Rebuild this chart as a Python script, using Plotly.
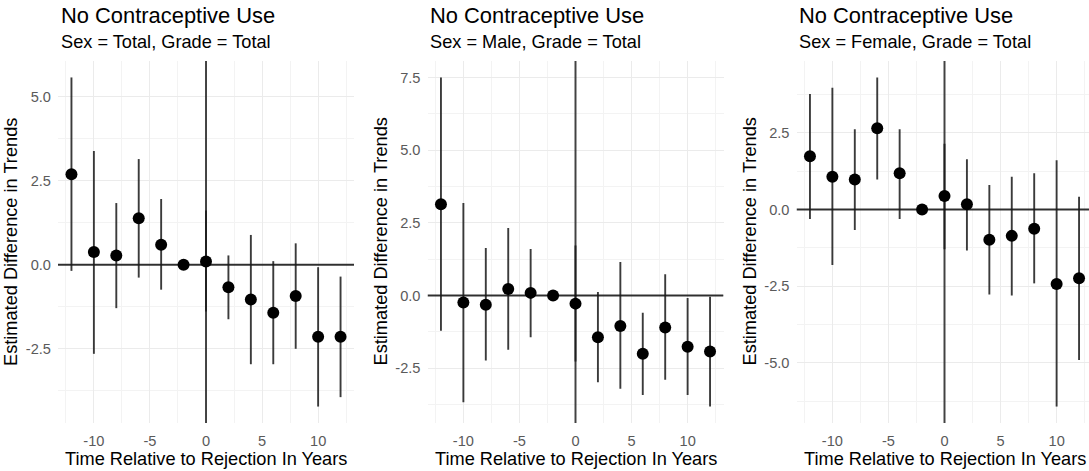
import plotly.graph_objects as go

# ---------------- data ----------------
time_years = [-12, -10, -8, -6, -4, -2, 0, 2, 4, 6, 8, 10, 12]

total_est = [2.70, 0.38, 0.28, 1.39, 0.60, 0.00, 0.10, -0.67, -1.03, -1.43, -0.93, -2.14, -2.14]
total_lo = [-0.18, -2.65, -1.29, -0.38, -0.74, 0.00, -1.39, -1.62, -2.96, -2.96, -2.50, -4.22, -3.94]
total_hi = [5.58, 3.39, 1.84, 3.15, 1.96, 0.00, 1.62, 0.28, 0.89, 0.11, 0.64, -0.07, -0.35]

male_est = [3.14, -0.24, -0.32, 0.22, 0.09, 0.00, -0.28, -1.44, -1.05, -2.00, -1.10, -1.76, -1.93]
male_lo = [-1.21, -3.67, -2.24, -1.87, -1.44, 0.00, -2.27, -2.98, -3.21, -3.42, -2.90, -3.42, -3.82]
male_hi = [7.50, 3.18, 1.63, 2.32, 1.60, 0.00, 1.72, 0.12, 1.15, -0.59, 0.73, -0.09, -0.04]

female_est = [1.74, 1.07, 0.98, 2.65, 1.18, 0.00, 0.44, 0.17, -0.99, -0.86, -0.63, -2.43, -2.24]
female_lo = [-0.31, -1.81, -0.67, 0.98, -0.31, 0.00, -1.30, -1.34, -2.77, -2.81, -2.41, -6.43, -4.91]
female_hi = [3.77, 3.97, 2.62, 4.31, 2.62, 0.00, 2.15, 1.64, 0.80, 1.07, 1.18, 1.61, 0.42]

panel_title = "No Contraceptive Use"
panel_subtitles = ["Sex = Total, Grade = Total", "Sex = Male, Grade = Total", "Sex = Female, Grade = Total"]
x_title = "Time Relative to Rejection In Years"
y_title = "Estimated Difference in Trends"

x_tickvals = [-10, -5, 0, 5, 10]
x_ticktext = ["-10", "-5", "0", "5", "10"]
x_minor = [-12.5, -7.5, -2.5, 2.5, 7.5, 12.5]

y_tickvals = [[-2.5, 0.0, 2.5, 5.0], [-2.5, 0.0, 2.5, 5.0, 7.5], [-5.0, -2.5, 0.0, 2.5]]
y_ticktext = [["-2.5", "0.0", "2.5", "5.0"], ["-2.5", "0.0", "2.5", "5.0", "7.5"], ["-5.0", "-2.5", "0.0", "2.5"]]
y_minor = [[-3.75, -1.25, 1.25, 3.75], [-3.75, -1.25, 1.25, 3.75, 6.25], [-6.25, -3.75, -1.25, 1.25, 3.75]]

ref_x = 0  # vertical reference line (rejection year)
ref_y = 0  # horizontal reference line (no difference)

panels = [
    (total_est, total_lo, total_hi),
    (male_est, male_lo, male_hi),
    (female_est, female_lo, female_hi),
]

# ---------------- layout geometry (pixels) ----------------
W, H = 1089, 471
plot_top, plot_bottom = 61, 423
panel_left = [58, 427.5, 796.5]
panel_width = 296
FONT = "Liberation Sans, Arial, Helvetica, sans-serif"

fig = go.Figure()

ydom = [1 - plot_bottom / H, 1 - plot_top / H]

annotations = []

for i, (est, lo, hi) in enumerate(panels):
    n = i + 1
    xa = "x" if n == 1 else f"x{n}"
    ya = "y" if n == 1 else f"y{n}"

    # ranges with ggplot-like 5% expansion
    xlo_d, xhi_d = min(time_years), max(time_years)
    xpad = 0.05 * (xhi_d - xlo_d)
    xr = [xlo_d - xpad, xhi_d + xpad]
    ylo_d, yhi_d = min(lo), max(hi)
    ypad = 0.05 * (yhi_d - ylo_d)
    yr = [ylo_d - ypad, yhi_d + ypad]
    xr_full = list(xr)

    left = panel_left[i]
    right = left + panel_width
    if right > W:
        frac = (W - left) / panel_width
        xr = [xr[0], xr[0] + (xr[1] - xr[0]) * frac]
        right = W
    xdom = [left / W, right / W]

    # reference lines (drawn beneath the points)
    fig.add_trace(go.Scatter(x=[ref_x, ref_x], y=yr, mode="lines",
                             line=dict(color="rgba(0,0,0,0.72)", width=2),
                             xaxis=xa, yaxis=ya, showlegend=False, hoverinfo="skip"))
    fig.add_trace(go.Scatter(x=xr_full, y=[ref_y, ref_y], mode="lines",
                             line=dict(color="rgba(0,0,0,0.8)", width=2),
                             xaxis=xa, yaxis=ya, showlegend=False, hoverinfo="skip"))

    fig.add_trace(go.Scatter(
        x=time_years, y=est, mode="markers",
        marker=dict(color="black", size=12),
        error_y=dict(type="data", symmetric=False,
                     array=[h - e for h, e in zip(hi, est)],
                     arrayminus=[e - l for e, l in zip(est, lo)],
                     width=0, thickness=1.9, color="rgba(25,25,25,0.85)"),
        xaxis=xa, yaxis=ya, showlegend=False,
    ))

    axis_common = dict(showline=False, zeroline=False, ticks="",
                       gridcolor="#EBEBEB", gridwidth=1.4,
                       tickfont=dict(family=FONT, size=14.6, color="#5A5A5A"))
    fig.layout[("xaxis" if n == 1 else f"xaxis{n}")] = dict(
        domain=xdom, range=xr, anchor=ya,
        tickmode="array", tickvals=x_tickvals, ticktext=x_ticktext,
        minor=dict(tickvals=x_minor, showgrid=True, gridcolor="#F3F3F3", gridwidth=1),
        ticklabelstandoff=7,
        **axis_common)
    fig.layout[("yaxis" if n == 1 else f"yaxis{n}")] = dict(
        domain=ydom, range=yr, anchor=xa,
        tickmode="array", tickvals=y_tickvals[i], ticktext=y_ticktext[i],
        minor=dict(tickvals=y_minor[i], showgrid=True, gridcolor="#F3F3F3", gridwidth=1),
        ticklabelstandoff=6,
        **axis_common)

    # titles
    annotations.append(dict(text=panel_title, xref="paper", yref="paper",
                            x=(left + 0.5) / W, y=1 - 16 / H, xanchor="left", yanchor="middle",
                            showarrow=False, font=dict(family=FONT, size=21.9, color="black")))
    annotations.append(dict(text=panel_subtitles[i], xref="paper", yref="paper",
                            x=(left + 0.5) / W, y=1 - 42 / H, xanchor="left", yanchor="middle",
                            showarrow=False, font=dict(family=FONT, size=18.2, color="black")))
    # axis titles
    annotations.append(dict(text=x_title, xref="paper", yref="paper",
                            x=(left + panel_width / 2) / W, y=1 - 459 / H,
                            xanchor="center", yanchor="middle",
                            showarrow=False, font=dict(family=FONT, size=18.2, color="black")))
    annotations.append(dict(text=y_title, xref="paper", yref="paper",
                            x=(left - 47) / W, y=1 - (plot_top + plot_bottom) / 2 / H,
                            xanchor="center", yanchor="middle", textangle=-90,
                            showarrow=False, font=dict(family=FONT, size=18.2, color="black")))

fig.update_layout(
    width=W, height=H,
    margin=dict(l=0, r=0, t=0, b=0),
    paper_bgcolor="white", plot_bgcolor="white",
    annotations=annotations,
    font=dict(family=FONT),
)

fig.write_html("out.html")
